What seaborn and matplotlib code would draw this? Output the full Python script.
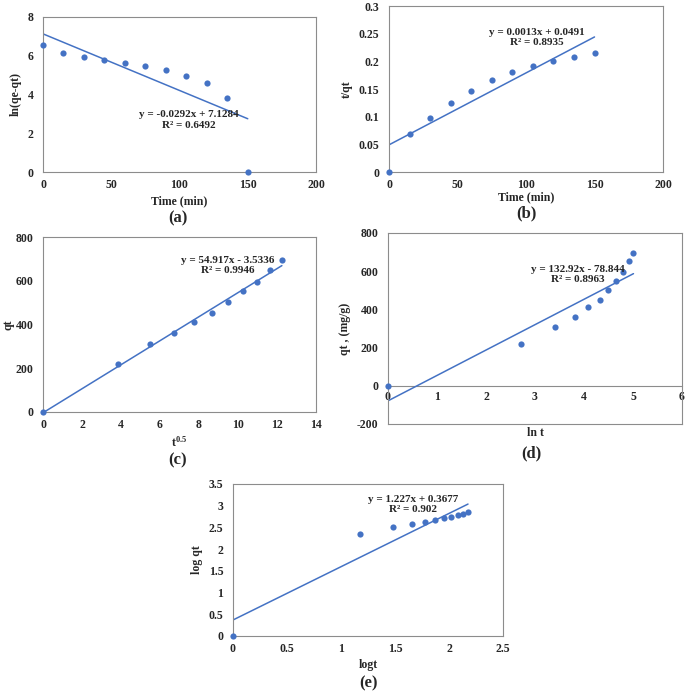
import numpy as np
import pandas as pd
import matplotlib
matplotlib.use('Agg')
import matplotlib.pyplot as plt
import seaborn as sns

# data
time_min = [0, 15, 30, 45, 60, 75, 90, 105, 120, 135, 150]
ln_qe_qt = [6.53, 6.14, 5.94, 5.80, 5.63, 5.49, 5.27, 4.97, 4.60, 3.80, 0.0]
t_over_qt = [0.0, 0.068, 0.097, 0.124, 0.146, 0.166, 0.180, 0.191, 0.201, 0.207, 0.216]
sqrt_t = [0, 3.87, 5.48, 6.71, 7.75, 8.66, 9.49, 10.25, 10.95, 11.62, 12.25]
qt = [0, 220, 310, 362, 411, 451, 501, 551, 596, 651, 697]
ln_t = [0, 2.71, 3.40, 3.81, 4.09, 4.32, 4.50, 4.65, 4.79, 4.91, 5.01]
log_t = [0, 1.176, 1.477, 1.653, 1.778, 1.875, 1.954, 2.021, 2.079, 2.130, 2.176]
log_qt = [0, 2.35, 2.51, 2.57, 2.62, 2.67, 2.72, 2.75, 2.78, 2.82, 2.85]

# trend line coefficients (slope, intercept) as printed on the chart
fit_a = (-0.0292, 7.1284)
fit_b = (0.0013, 0.0491)
fit_c = (54.917, -3.5336)
fit_d = (132.92, -78.844)
fit_e = (1.227, 0.3677)

sns.set_style('white')
plt.rcParams['font.family'] = ['Liberation Serif', 'DejaVu Serif']
plt.rcParams['font.weight'] = 'bold'
plt.rcParams['axes.labelweight'] = 'bold'
plt.rcParams['mathtext.fontset'] = 'custom'
plt.rcParams['mathtext.rm'] = 'Liberation Serif:bold'
plt.rcParams['mathtext.bf'] = 'Liberation Serif:bold'

BLUE = '#4472C4'
EDGE = '#8c8c8c'
TICK_FS = 8.5

fig = plt.figure(figsize=(6.85, 6.93), dpi=100)


def panel(rect, x, y, fit, eq, xlim, xticks, ylim, yticks, xlabel, ylabel, txt_pos):
    ax = fig.add_axes(rect)
    df = pd.DataFrame({'x': x, 'y': y})
    sns.scatterplot(data=df, x='x', y='y', ax=ax, color=BLUE, s=20,
                    edgecolor=BLUE, linewidth=0, zorder=3, clip_on=False)
    xx = np.array([min(x), max(x)])
    ax.plot(xx, fit[0] * xx + fit[1], color=BLUE, lw=1.1, zorder=2)
    ax.set_xlim(xlim)
    ax.set_ylim(ylim)
    ax.set_xticks(xticks)
    ax.set_yticks(yticks)
    ax.set_xticklabels([f'{v:g}' for v in xticks])
    ax.set_yticklabels([f'{v:g}' for v in yticks])
    ax.tick_params(length=0, labelsize=TICK_FS, pad=5)
    ax.tick_params(axis='y', pad=7)
    for s in ax.spines.values():
        s.set_color(EDGE)
        s.set_linewidth(0.8)
    ax.set_xlabel(xlabel, fontsize=8.5, labelpad=3)
    ax.set_ylabel(ylabel, fontsize=8.5, labelpad=4)
    ax.text(txt_pos[0], txt_pos[1], eq, transform=ax.transAxes, ha='center',
            va='center', fontsize=8, fontweight='bold', linespacing=1.25)
    return ax


ax_a = panel([0.0628, 0.7518, 0.3985, 0.2237], time_min, ln_qe_qt, fit_a,
             'y = -0.0292x + 7.1284\nR² = 0.6492', (0, 200), range(0, 201, 50),
             (0, 8), range(0, 9, 2), 'Time (min)', 'ln(qe-qt)', (0.535, 0.335))

ax_b = panel([0.5679, 0.7518, 0.4, 0.2395], time_min, t_over_qt, fit_b,
             'y = 0.0013x + 0.0491\nR² = 0.8935', (0, 200), range(0, 201, 50),
             (0, 0.3), [0, 0.05, 0.1, 0.15, 0.2, 0.25, 0.3], 'Time (min)', 't/qt',
             (0.54, 0.81))
ax_b.xaxis.labelpad = 0

ax_c = panel([0.0628, 0.4055, 0.3985, 0.2525], sqrt_t, qt, fit_c,
             'y = 54.917x - 3.5336\nR² = 0.9946', (0, 14), range(0, 15, 2),
             (0, 800), range(0, 801, 200), r'$\mathrm{t^{0.5}}$', 'qt', (0.675, 0.837))
ax_c.yaxis.labelpad = 1

ax_d = panel([0.5664, 0.3882, 0.4292, 0.2756], ln_t, qt, fit_d,
             'y = 132.92x - 78.844\nR² = 0.8963', (0, 6), range(0, 7),
             (-200, 800), range(-200, 801, 200), 'ln t', 'qt , (mg/g)', (0.645, 0.783))
ax_d.tick_params(axis='x', labelbottom=False)
ax_d.xaxis.labelpad = 2
sec = ax_d.secondary_xaxis(0.2)
sec.set_xticks(range(0, 7))
sec.set_xticklabels([f'{v:g}' for v in range(0, 7)])
sec.tick_params(length=0, labelsize=TICK_FS, pad=4)
sec.spines['bottom'].set_color(EDGE)
sec.spines['bottom'].set_linewidth(0.8)

ax_e = panel([0.3401, 0.0823, 0.3942, 0.2193], log_t, log_qt, fit_e,
             'y = 1.227x + 0.3677\nR² = 0.902', (0, 2.5), [0, 0.5, 1, 1.5, 2, 2.5],
             (0, 3.5), [0, 0.5, 1, 1.5, 2, 2.5, 3, 3.5], 'logt', 'log qt', (0.667, 0.865))

# panel letters
for lbl, x, y in [('(a)', 178, 218), ('(b)', 526, 213), ('(c)', 178, 460),
                  ('(d)', 531, 453), ('(e)', 368, 683)]:
    fig.text(x / 685, 1 - y / 693, lbl, ha='center', va='center',
             fontsize=12, fontweight='bold')

fig.savefig('out.png', dpi=100)
